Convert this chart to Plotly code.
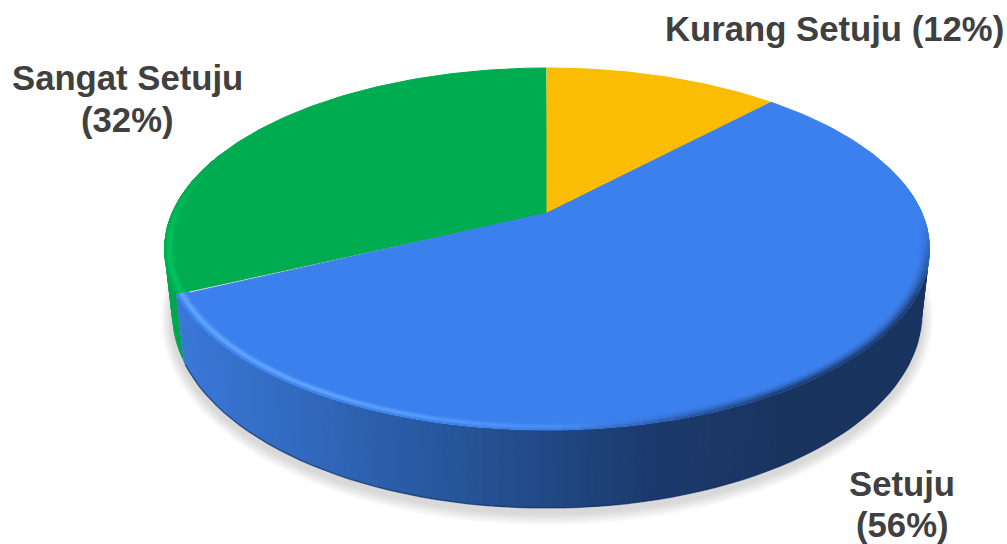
import numpy as np
import plotly.graph_objects as go

# ---- data ----
categories = ["Kurang Setuju", "Setuju", "Sangat Setuju"]
values = [12, 56, 32]
colors = ["#FBBC04", "#3C80EE", "#00AC50"]
side_colors_left = [(0, 166, 80)]
label_first_lines = ["Kurang Setuju (12%)", "Setuju", "Sangat Setuju"]
label_second_lines = ["", "(56%)", "(32%)"]
label_x = [834, 902, 127]
label_y1 = [28.5, 484, 78]
label_y2 = [0, 525, 120]

# ---- camera (turns a flat disc into the tilted, foreshortened one) ----
W, H = 1007, 544
CX, CY, DX, A, C = 547, 213, 375, -131.5, 0.1989
BOTTOM_X = 0.98


def project(theta, r=1.0):
    t = np.radians(theta)
    u, v = r * np.sin(t), r * np.cos(t)
    d = C * v + 1
    return CX + DX * u / d, (A * v + CY) / d


def project_bottom(theta):
    x, y = project(theta)
    v = np.cos(np.radians(theta))
    off = 60 + 18 * np.maximum(-v, 0)
    return CX + (x - CX) * BOTTOM_X, y + off


def mix(a, b, t):
    t = float(np.clip(t, 0, 1))
    return tuple(a[i] + (b[i] - a[i]) * t for i in range(3))


def rgb(c):
    return "rgb(%d,%d,%d)" % tuple(round(v) for v in c)


def hex_rgb(h):
    return tuple(int(h[i:i + 2], 16) for i in (1, 3, 5))


fig = go.Figure()


def poly(xs, ys, color, line=0.0, opacity=1.0, name=""):
    fig.add_trace(go.Scatter(
        x=list(xs), y=list(ys), mode="lines", fill="toself", fillcolor=color,
        line=dict(color=color, width=line), opacity=opacity,
        hoverinfo="skip", showlegend=False, name=name))


def side_blue(x):
    stops_x = [180, 350, 500, 650, 780]
    stops = [(58, 120, 216), (45, 99, 178), (35, 78, 142), (27, 58, 108), (26, 52, 96)]
    return tuple(np.interp(x, stops_x, [s[i] for s in stops]) for i in range(3))


# cumulative slice angles from the values
total = sum(values)
edges = np.cumsum([0] + values) / total * 360.0
blue_a, blue_b = edges[1], edges[2]
green_b = edges[3]

# ---- soft shadow below the disc ----
full = np.linspace(0, 360, 181)
bx, by = project_bottom(full)
mx, my = bx.mean(), by.mean()
for d in np.arange(15, 0, -1.5):
    sx = mx + (bx - mx) * (1 + (d * 0.75) / 376)
    sy = my + 5 + (by - my) * (1 + (d * 0.75) / 199)
    poly(sx, sy, "rgb(120,120,120)", opacity=0.03)

# ---- rim of the disc (each strip runs under the next, so no seams show) ----
step = 1.0


def rim_strip(a, b, color_fn):
    arc = np.linspace(a, b, 4)
    tx, ty = project(arc)
    ux, uy = project_bottom(arc[::-1])
    poly([*tx, *ux, tx[0]], [*ty, *uy, ty[0]], color_fn((tx.mean() + ux.mean()) / 2))


for a in np.arange(blue_b, 287, step):
    rim_strip(a, a + 2 * step, lambda x: rgb(side_colors_left[0]))
for a in np.arange(80, blue_b, step):
    rim_strip(a, min(a + 2 * step, blue_b), lambda x: rgb(side_blue(x)))
ax = np.arange(100, blue_b + 0.01, 2)
lx, ly = project_bottom(ax)
fig.add_trace(go.Scatter(x=lx, y=ly, mode="lines", line=dict(color="rgb(22,46,96)", width=1.5),
                         opacity=0.6, hoverinfo="skip", showlegend=False))

# ---- top face: neighbours overlap so no pale seam shows between slices ----
for i in [2, 0, 1]:
    th = np.arange(edges[i], edges[i + 1] + 0.01, 1.0)
    px, py = project(th)
    poly([CX, *px, CX], [CY, *py, CY], colors[i], line=1.0, name=categories[i])

# ---- bevel along the front edge: every ring paints out to the rim ----
base_blue = hex_rgb(colors[1])
base_green = hex_rgb(colors[2])
ring_edges = np.linspace(0.97, 1.0, 7)
seg = 2.0


def band(a, b, r0, color):
    arc = np.linspace(a, b, 4)
    ix, iy = project(arc, r0)
    ox, oy = project(arc[::-1], 1.0)
    poly([*ix, *ox, ix[0]], [*iy, *oy, iy[0]], color)


for k in range(len(ring_edges) - 1):
    r0 = ring_edges[k]
    p = (k + 0.5) / (len(ring_edges) - 1)
    bump = np.sin(np.pi * p ** 1.4) ** 2
    for a in np.arange(92, blue_b - 0.01, seg):
        b = min(a + 2 * seg, blue_b)
        mid = a + seg / 2
        x, _ = project(mid)
        light = np.clip((700 - x) / 380, 0, 1) * bump * 0.85
        dark = np.clip((x - 560) / 220, 0, 1) * np.clip((mid - 92) / 25, 0, 1) * p ** 1.5
        col = mix(base_blue, (104, 172, 255), light)
        col = mix(col, (26, 52, 96), dark * 0.95)
        band(a, b, r0, rgb(col))
    for a in np.arange(blue_b, 287, seg):
        mid = a + seg / 2
        fade = np.clip((287 - mid) / 30, 0, 1)
        col = mix(base_green, (0, 196, 96), fade * bump)
        band(a, a + 2 * seg, r0, rgb(col))

# ---- labels ----
for i in range(len(categories)):
    for text, y in ((label_first_lines[i], label_y1[i]), (label_second_lines[i], label_y2[i])):
        if text:
            fig.add_annotation(
                x=label_x[i], y=y, xref="x", yref="y", showarrow=False, text=text,
                font=dict(family="Liberation Sans", size=34.7, color="#404040", weight="bold"),
                align="center", xanchor="center", yanchor="middle")

fig.update_layout(
    width=W, height=H, margin=dict(l=0, r=0, t=0, b=0),
    paper_bgcolor="white", plot_bgcolor="white", showlegend=False,
    xaxis=dict(range=[0, W], visible=False, fixedrange=True),
    yaxis=dict(range=[H, 0], visible=False, fixedrange=True),
)
fig.write_html("out.html", config=dict(displayModeBar=False),
               post_script="document.body.style.margin='0';document.body.style.overflow='hidden';")
